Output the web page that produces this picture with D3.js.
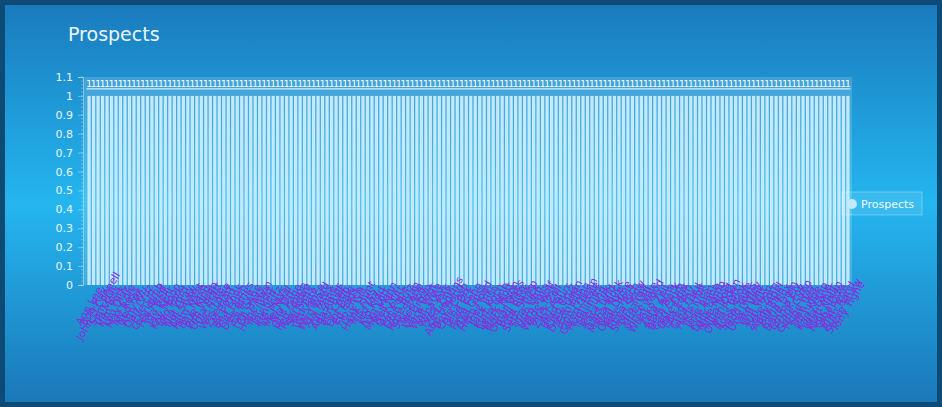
<!DOCTYPE html>
<html><head><meta charset="utf-8">
<script src="https://cdn.jsdelivr.net/npm/d3@7"></script>
<style>body{margin:0;background:#0d4a75;overflow:hidden}svg{display:block}</style>
</head><body><svg id="c" width="942" height="407"></svg>
<script>
const title = "Prospects";
const seriesName = "Prospects";
const prospects = [
"Ann Lee","Bob Ray","John O'Connell","Sam Hill","Tia Moss","Kim Park","Lou Diaz","Max Cole","Ivy Ross","Ned Fox",
"Amy Wu","Dan Cruz","Eve Lin","Gus Lamb","Hal Reed","Ida Bell","Jay Kent","Kay Moon","Leo Park","Mia Ford",
"Nat Gray","Oli Shaw","Pam West","Ray Nash","Sue King","Tom Webb","Uma Pratt","Vic Hale","Wes Lowe","Zoe Hart",
"Al Boyd","Bea Cook","Cal Dunn","Dee Ames","Eli Frye","Fay Gage","Gil Hays","Hope Irwin","Ike Judd","Joy Kerr",
"Ken Lutz","Liz Mays","Mel Neal","Nia Orr","Otis Page","Peg Quinn","Rex Rowe","Sal Sims","Ted Tate","Val Vance",
"Wyn Ward","Xia Yates","Yul Zane","Ada Ames","Ben Ball","Cy Cobb","Dot Dale","Ed Eads","Flo Fitch","Guy Gill",
"Hank Hunt","Iris Ives","Jed Jay","Kip Kidd","Lyn Lott","Moe Mann","Nell Nix","Ozzy Ott","Pat Pope","Quin Ruiz",
"Rose Ryan","Stu Stone","Tess Toll","Ulf Urban","Vera Vogt","Walt Wise","Xena Xu","Yves York","Zed Zink","Abe Hopkins",
"Bev Bond","Cole Cash","Dina Dix","Earl Eck","Faye Fenn","Gail Goss","Herb Hood","Inez Ink","Jack Jost","Kurt Koch",
"Lena Lynn","Mark Mott","Nora Nunn","Omar Oaks","Paul Pike","Rita Rusk","Seth Sharp","Tina Tuck","Ugo Ulm","Vern Voss",
"Wade Wolf","Yara Yost","Zack Zoll","Ari Ash","Brad Burr","Cleo Cruz","Drew Dean","Erin Ells","Finn Flynn","Gwen Glenn",
"Hugh Hale","Isla Imes","Joel Jung","Kara Kirk","Lars Lind","Mona Mock","Neil Nye","Opal Orme","Pete Post","Rhea Rich",
"Sean Snow","Tara Troy","Uriel Uhl","Vince Vale","Wren Wood","Yoko Yu","Zara Zell","Alan Arns","Beth Beck","Carl Crum",
"Dale Dow","Ella Eden","Fred Fay","Gina Gaul","Hans Holt","Ilse Ives","Jose Juan","Kyle Kane","Lucy Lamb","Mike Moss",
"Nina Noel","Owen Oden","Pia Pratt","Russ Rook","Sara Sage","Todd Toms","Una Uttley","Vito Vail","Will Witt","Yuri Yoon",
"Zeke Zorn","Andy Abel","Bill Bain","Carla Cox","Dave Dorn","Emma Ely","Frank Foy","Gene Gunn","Hope Hay","Ivan Iles",
"Jill Judge","Karl Kemp","Lola Lane","Matt Muir","Nick Nolan","Olga Ode","Phil Penn","Ruth Rand","Steve Shaw","Tony Tighe"
];
const values = [
1,1,1,1,1,1,1,1,1,1, 1,1,1,1,1,1,1,1,1,1, 1,1,1,1,1,1,1,1,1,1, 1,1,1,1,1,1,1,1,1,1,
1,1,1,1,1,1,1,1,1,1, 1,1,1,1,1,1,1,1,1,1, 1,1,1,1,1,1,1,1,1,1, 1,1,1,1,1,1,1,1,1,1,
1,1,1,1,1,1,1,1,1,1, 1,1,1,1,1,1,1,1,1,1, 1,1,1,1,1,1,1,1,1,1, 1,1,1,1,1,1,1,1,1,1,
1,1,1,1,1,1,1,1,1,1, 1,1,1,1,1,1,1,1,1,1, 1,1,1,1,1,1,1,1,1,1, 1,1,1,1,1,1,1,1,1,1,
1,1,1,1,1,1,1,1,1,1
];
const yTicks = [0,0.1,0.2,0.3,0.4,0.5,0.6,0.7,0.8,0.9,1,1.1];

const svg = d3.select("#c");
const W = 942, H = 407;
const defs = svg.append("defs");
const g1 = defs.append("linearGradient").attr("id","bg").attr("x1",0).attr("y1",0).attr("x2",0).attr("y2",1);
g1.append("stop").attr("offset","0%").attr("stop-color","#1a7bbd");
g1.append("stop").attr("offset","50%").attr("stop-color","#24b6ef");
g1.append("stop").attr("offset","100%").attr("stop-color","#1b78b9");

svg.append("rect").attr("width",W).attr("height",H).attr("fill","#0d4a75");
svg.append("rect").attr("x",5).attr("y",5).attr("width",W-10).attr("height",H-10).attr("fill","url(#bg)");

svg.append("text").attr("x",68).attr("y",41).text(title)
  .attr("font-family","DejaVu Sans, sans-serif").attr("font-size",19).attr("fill","#eaf6ff");

const data = prospects.map((p,i)=>({name:p, value:values[i]}));
const m = {left:85, right:851, top:77, bottom:285};
const x = d3.scaleBand().domain(d3.range(data.length)).range([m.left+2, m.right-1]).paddingInner(0.28).paddingOuter(0.1);
const y = d3.scaleLinear().domain([0,1.1]).range([m.bottom, m.top]);

// plot band
svg.append("rect").attr("x",m.left-2).attr("y",m.top).attr("width",m.right-m.left+3).attr("height",m.bottom-m.top)
  .attr("fill","rgba(255,255,255,0.16)");

// y axis
const ya = svg.append("g").attr("transform",`translate(${m.left-2},0)`)
  .call(d3.axisLeft(y).tickValues(yTicks).tickSize(5).tickPadding(5).tickFormat(d3.format("~g")));
ya.select(".domain").attr("stroke","rgba(255,255,255,0.35)");
ya.selectAll(".tick line").attr("stroke","rgba(255,255,255,0.35)");
ya.selectAll("text").attr("fill","#eaf6ff").attr("font-family","DejaVu Sans, sans-serif").attr("font-size",11);
const minor = d3.range(0, 1.1001, 0.02);
ya.selectAll(".minor").data(minor).join("line").attr("class","minor")
  .attr("x1",-2).attr("x2",0).attr("y1",d=>y(d)).attr("y2",d=>y(d)).attr("stroke","rgba(255,255,255,0.25)");

// bars
svg.append("g").selectAll("rect").data(data).join("rect")
  .attr("x",(d,i)=>x(i)).attr("width",x.bandwidth())
  .attr("y",d=>y(d.value)).attr("height",d=>y(0)-y(d.value))
  .attr("fill","#c3e9fc");

// value labels
svg.append("g").selectAll("text").data(data).join("text")
  .attr("x",(d,i)=>x(i)+x.bandwidth()/2).attr("y",d=>y(d.value)-9)
  .attr("text-anchor","middle").attr("font-family","DejaVu Sans, sans-serif").attr("font-size",9)
  .attr("fill","#ffffff").text(d=>d.value);
svg.append("line").attr("x1",x(0)-1).attr("x2",x(data.length-1)+x.bandwidth()+1)
  .attr("y1",y(1)-7).attr("y2",y(1)-7).attr("stroke","#ffffff").attr("stroke-width",1);

// x labels
svg.append("g").selectAll("text").data(data).join("text")
  .attr("transform",(d,i)=>`translate(${x(i)+x.bandwidth()/2},${m.bottom+21}) rotate(-60)`)
  .attr("text-anchor","middle").attr("dy","0.35em")
  .attr("font-family","DejaVu Sans, sans-serif").attr("font-size",10.5).attr("fill","#8a2be2")
  .text(d=>d.name);

// legend
const lg = svg.append("g").attr("transform","translate(842,192)");
lg.append("rect").attr("width",80).attr("height",23).attr("fill","rgba(255,255,255,0.1)")
  .attr("stroke","rgba(255,255,255,0.3)");
lg.append("circle").attr("cx",10).attr("cy",12).attr("r",5).attr("fill","#c3e9fc");
lg.append("text").attr("x",19).attr("y",15.5).text(seriesName)
  .attr("font-family","DejaVu Sans, sans-serif").attr("font-size",11).attr("fill","#f0f8ff");
</script></body></html>
